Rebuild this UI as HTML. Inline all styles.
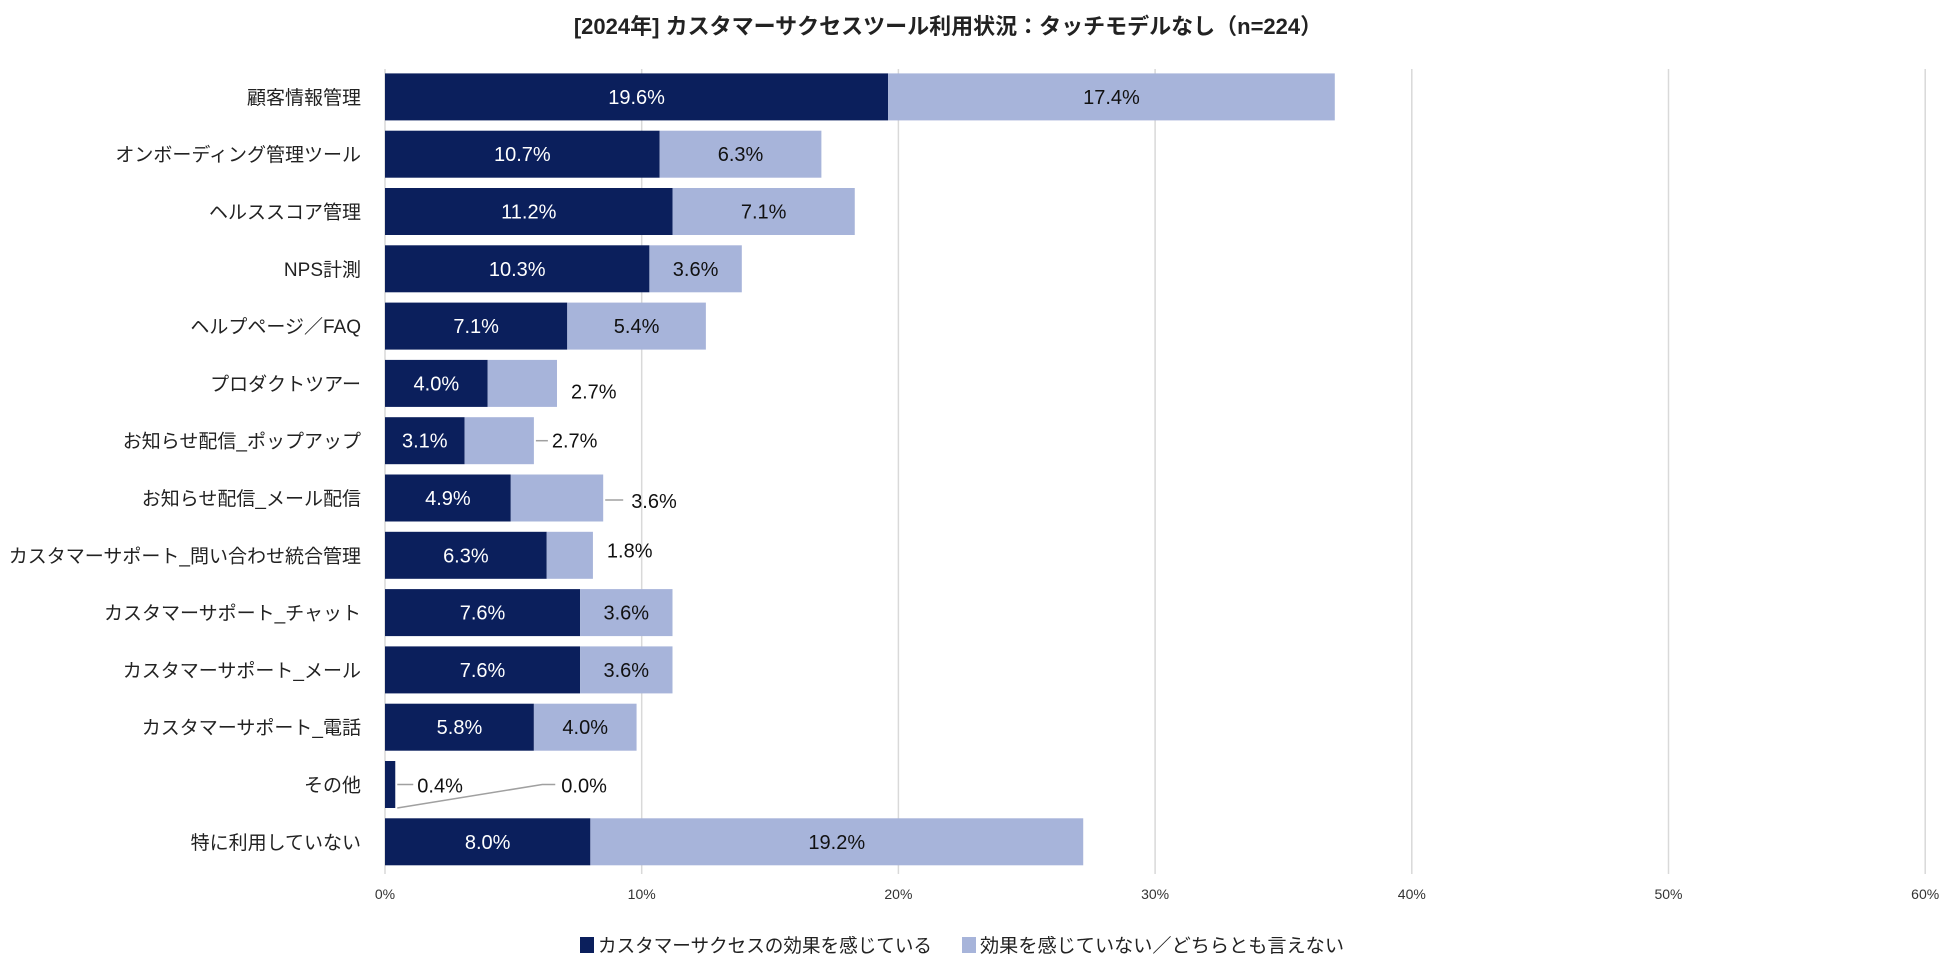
<!DOCTYPE html>
<html><head><meta charset="utf-8">
<style>
html,body{margin:0;padding:0;background:#fff;}
svg{display:block;font-family:"Liberation Sans","Noto Sans CJK JP",sans-serif;}
</style></head>
<body>
<svg id="chart" width="1950" height="964" viewBox="0 0 1950 964">
<text x="948" y="34" text-anchor="middle" font-size="22" font-weight="bold" fill="#222">[2024年] カスタマーサクセスツール利用状況：タッチモデルなし（n=224）</text>
<g id="grid"></g><g id="bars"></g><g id="labels"></g><g id="ticks"></g>
<g>
<rect x="580" y="937" width="14" height="16" fill="#0b1f5c"/>
<text x="598" y="952" font-size="19" fill="#222" textLength="334" lengthAdjust="spacingAndGlyphs">カスタマーサクセスの効果を感じている</text>
<rect x="962" y="937" width="14" height="16" fill="#a7b4da"/>
<text x="980" y="952" font-size="19" fill="#222" textLength="364" lengthAdjust="spacingAndGlyphs">効果を感じていない／どちらとも言えない</text>
</g>
</svg>
<script>
const categories = ["顧客情報管理","オンボーディング管理ツール","ヘルススコア管理","NPS計測","ヘルプページ／FAQ","プロダクトツアー","お知らせ配信_ポップアップ","お知らせ配信_メール配信","カスタマーサポート_問い合わせ統合管理","カスタマーサポート_チャット","カスタマーサポート_メール","カスタマーサポート_電話","その他","特に利用していない"];
const effective = [19.6,10.7,11.2,10.3,7.1,4.0,3.1,4.9,6.3,7.6,7.6,5.8,0.4,8.0];
const notEffective = [17.4,6.3,7.1,3.6,5.4,2.7,2.7,3.6,1.8,3.6,3.6,4.0,0.0,19.2];
const ticks = [0,10,20,30,40,50,60];

const NS="http://www.w3.org/2000/svg";
const x0=385, pxPer=25.67, top0=73.4, pitch=57.3, bh=47;
const xs=v=>x0+v*pxPer;
const yc=i=>top0+i*pitch;
function mk(tag,attrs,parent){const e=document.createElementNS(NS,tag);for(const k in attrs)e.setAttribute(k,attrs[k]);parent.appendChild(e);return e;}
const grid=document.getElementById('grid'),bars=document.getElementById('bars'),labels=document.getElementById('labels'),tk=document.getElementById('ticks');
ticks.forEach(t=>{
  const l=mk('line',{x1:xs(t),x2:xs(t),y1:69,y2:874,stroke:'#d9d9d9','stroke-width':1.5},grid);
  
  
  const tx=mk('text',{x:xs(t),y:899,'text-anchor':'middle','font-size':14,fill:'#333'},tk);
  tx.textContent=t+'%';
  
  
});
categories.forEach((c,i)=>{
  const y=yc(i), cy=y+bh/2;
  const cl=mk('text',{x:361,y:cy+7,'text-anchor':'end','font-size':19,fill:'#222'},labels);
  cl.textContent=c;
  
  
  const a=effective[i], b=notEffective[i];
  const r1=mk('rect',{x:xs(0),y:y,width:xs(a)-xs(0),height:bh,fill:'#0b1f5c'},bars);
  
  
  const r2=mk('rect',{x:xs(a),y:y,width:xs(a+b)-xs(a),height:bh,fill:'#a7b4da'},bars);
  
  
  let t1;
  if(a>=2){
    t1=mk('text',{x:(xs(0)+xs(a))/2,y:cy+7,'text-anchor':'middle','font-size':20,fill:'#fff'},labels);
  } else {
    mk('line',{x1:xs(a)+2,x2:xs(a)+18,y1:cy,y2:cy,stroke:'#a0a0a0','stroke-width':1.5},labels);
    t1=mk('text',{x:xs(a)+22,y:cy+8,'font-size':20,fill:'#111'},labels);
  }
  t1.textContent=a.toFixed(1)+'%';
  
  
  let t2;
  if(b>=3.5 && a+b>=8.6){
    t2=mk('text',{x:(xs(a)+xs(a+b))/2,y:cy+7,'text-anchor':'middle','font-size':20,fill:'#111'},labels);
  } else if(b===0){
    mk('polyline',{points:`${xs(a+b)+2},${y+bh} ${xs(a)+147},${cy} ${xs(a)+160},${cy}`,fill:'none',stroke:'#a0a0a0','stroke-width':1.5},labels);
    t2=mk('text',{x:xs(a)+166,y:cy+8,'font-size':20,fill:'#111'},labels);
  } else {
    const ex=xs(a+b);
    const outLine = b>=2.5 && a<4;
    const longLine = b>=3.5;
    if(outLine||longLine){mk('line',{x1:ex+2,x2:ex+(longLine?20:14),y1:cy+(longLine?2:0),y2:cy+(longLine?2:0),stroke:'#a0a0a0','stroke-width':1.5},labels);}
    const off = longLine?28:(outLine?18:(b<2?14:14));
    const dy = longLine?10:(outLine?7:(b<2?2:15));
    t2=mk('text',{x:ex+off,y:cy+dy,'font-size':20,fill:'#111'},labels);
  }
  t2.textContent=b.toFixed(1)+'%';
  
  
});
</script>
</body></html>
